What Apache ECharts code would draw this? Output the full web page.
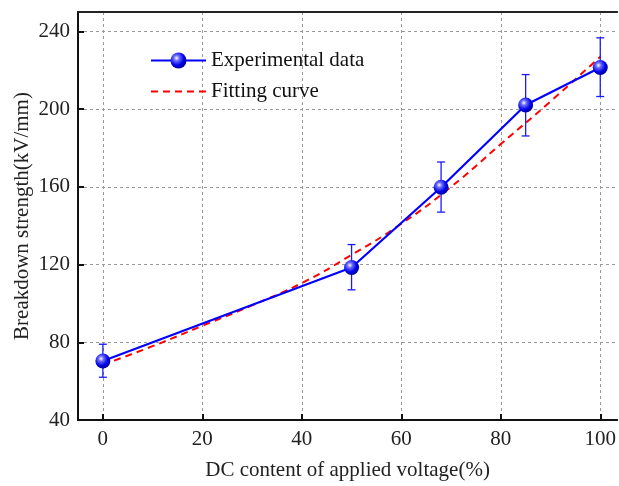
<!DOCTYPE html>
<html><head><meta charset="utf-8">
<script src="https://cdn.jsdelivr.net/npm/echarts@6/dist/echarts.min.js"></script>
<style>html,body{margin:0;padding:0;background:#fff}#c{width:619px;height:486px}</style>
</head><body><div id="c"></div>
<script>
var expX = [0, 50, 68, 85, 100];
var expY = [70.4, 118.5, 159.8, 202.1, 221.4];
var errLow = [62, 107, 147, 186.2, 206.5];
var errHigh = [79, 130.3, 172.8, 217.8, 236.7];
var fitX = [0, 10, 20, 30, 40, 50, 60, 70, 80, 90, 100];
var fitY = [68.5, 78, 88.5, 99, 110.5, 125, 141, 160, 182, 204, 227];
var xTicks = [0, 20, 40, 60, 80, 100];
var yTicks = [40, 80, 120, 160, 200, 240];

var font = 'Liberation Serif';
var chart = echarts.init(document.getElementById('c'));
var expData = expX.map(function(x, i){ return [x, expY[i]]; });
var fitData = fitX.map(function(x, i){ return [x, fitY[i]]; });
var errData = expX.map(function(x, i){ return [x, errLow[i], errHigh[i]]; });
var sphere = new echarts.graphic.RadialGradient(0.38, 0.35, 0.7, [
  {offset: 0, color: '#ffffff'},
  {offset: 0.25, color: '#6a6aff'},
  {offset: 0.65, color: '#0000e8'},
  {offset: 1, color: '#000090'}
]);
var gridLineStyle = {color: '#999', type: [3, 3], width: 1};
chart.setOption({
  animation: false,
  grid: {left: 78, top: 12, right: 0, bottom: 65, show: false, containLabel: false},
  legend: {
    left: 145, top: 45, orient: 'vertical', itemGap: 10, itemWidth: 55, itemHeight: 20,
    textStyle: {fontFamily: font, fontSize: 21, color: '#111'},
    data: ['Experimental data', {name: 'Fitting curve', itemStyle: {opacity: 0}}]
  },
  xAxis: [{
    type: 'value', min: -5, max: 103.4, interval: 5,
    axisLine: {show: true, onZero: false, lineStyle: {color: '#111', width: 2}},
    axisTick: {show: true, inside: true, length: 6, lineStyle: {color: '#111', width: 2}, customValues: xTicks},
    axisLabel: {fontFamily: font, fontSize: 21, color: '#222', margin: 9, customValues: xTicks},
    splitLine: {show: true, lineStyle: gridLineStyle, customValues: xTicks},
    name: 'DC content of applied voltage(%)', nameLocation: 'middle', nameGap: 40,
    nameTextStyle: {fontFamily: font, fontSize: 21, color: '#222'}
  }, {
    type: 'value', position: 'top', min: -5, max: 103.4, interval: 5,
    axisLine: {show: true, onZero: false, lineStyle: {color: '#222', width: 2}},
    axisTick: {show: false}, axisLabel: {show: false}, splitLine: {show: false}
  }],
  yAxis: {
    type: 'value', min: 40, max: 250, interval: 10,
    axisLine: {show: true, onZero: false, lineStyle: {color: '#111', width: 2}},
    axisTick: {show: true, inside: true, length: 6, lineStyle: {color: '#111', width: 2}, customValues: yTicks},
    axisLabel: {fontFamily: font, fontSize: 21, color: '#222', margin: 8, customValues: yTicks},
    splitLine: {show: true, lineStyle: gridLineStyle, customValues: yTicks},
    name: 'Breakdown strength(kV/mm)', nameLocation: 'middle', nameGap: 45, nameRotate: 90,
    nameMoveOverlap: false,
    nameTextStyle: {fontFamily: font, fontSize: 21, color: '#222'}
  },
  series: [
    {
      name: 'Fitting curve', type: 'line', data: fitData, smooth: true, symbol: 'none', z: 2,
      lineStyle: {color: '#ff0000', width: 2, type: [7, 5]}, itemStyle: {color: '#ff0000'}
    },
    {
      name: 'errors', type: 'custom', data: errData, z: 3,
      renderItem: function(params, api){
        var x = api.value(0);
        var lo = api.coord([x, api.value(1)]);
        var hi = api.coord([x, api.value(2)]);
        var w = 4;
        var st = {stroke: '#1a1aff', lineWidth: 1.3};
        return {type: 'group', children: [
          {type: 'line', shape: {x1: lo[0], y1: lo[1], x2: hi[0], y2: hi[1]}, style: st},
          {type: 'line', shape: {x1: lo[0]-w, y1: lo[1], x2: lo[0]+w, y2: lo[1]}, style: st},
          {type: 'line', shape: {x1: hi[0]-w, y1: hi[1], x2: hi[0]+w, y2: hi[1]}, style: st}
        ]};
      }
    },
    {
      name: 'Experimental data', type: 'line', data: expData, z: 4,
      symbol: 'circle', symbolSize: 15, showAllSymbol: true,
      lineStyle: {color: '#0000ff', width: 2.2},
      itemStyle: {color: sphere, borderWidth: 0}
    }
  ]
});
</script></body></html>
